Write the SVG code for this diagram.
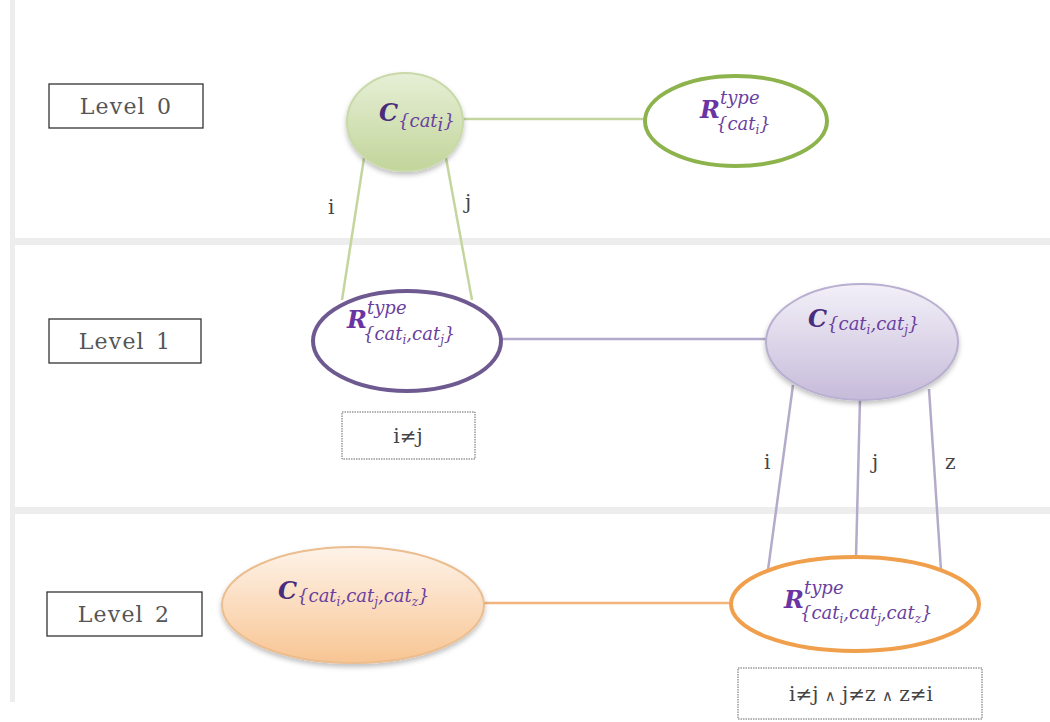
<svg xmlns="http://www.w3.org/2000/svg" width="1050" height="722" viewBox="0 0 1050 722">
<defs>
<linearGradient id="gGreen" x1="0" y1="0" x2="0" y2="1"><stop offset="0" stop-color="#e6efd6"/><stop offset="1" stop-color="#c2d59a"/></linearGradient>
<linearGradient id="gPurple" x1="0" y1="0" x2="0" y2="1"><stop offset="0" stop-color="#f3f0f8"/><stop offset="1" stop-color="#c6bbda"/></linearGradient>
<linearGradient id="gOrange" x1="0" y1="0" x2="0" y2="1"><stop offset="0" stop-color="#fef3e9"/><stop offset="1" stop-color="#f8c593"/></linearGradient>
<filter id="sh" x="-20%" y="-20%" width="140%" height="150%"><feDropShadow dx="0" dy="3" stdDeviation="2.5" flood-color="#000" flood-opacity="0.25"/></filter>
</defs>
<style>
.band{fill:#ededed}
.lvl{fill:#fff;stroke:#333;stroke-width:1.3}
.lvlt{font-family:"DejaVu Serif",serif;font-size:22px;fill:#555;letter-spacing:1.2px;word-spacing:3px}
.cond{fill:#fff;stroke:#666;stroke-width:1;stroke-dasharray:1.5 1}
.condt{font-family:"DejaVu Serif",serif;font-size:20px;fill:#444}
.and{font-size:15px}
.m{font-family:"DejaVu Serif",serif;font-style:italic}
.big{font-weight:bold;font-size:24px}
.cbig{fill:#4a2c7c}
.rbig{fill:#6a34a2}
.sub{font-size:18px;fill:#6a3fa0}
.tiny{font-size:12px}
.lab{font-family:"DejaVu Serif",serif;font-size:20px;fill:#444}
.eg{stroke:#c4d69e;stroke-width:2.5;fill:none}
.ep{stroke:#b4abca;stroke-width:2.5;fill:none}
.eo{stroke:#f3b47c;stroke-width:2.5;fill:none}
</style>
<rect x="0" y="0" width="1050" height="722" fill="#fff"/>
<rect class="band" x="10" y="0" width="5" height="702"/>
<rect class="band" x="14" y="238" width="1036" height="7"/>
<rect class="band" x="14" y="507" width="1036" height="7"/>

<g id="connectors">
<line class="eg" x1="462" y1="119" x2="645" y2="119"/>
<line class="eg" x1="364" y1="158" x2="342" y2="300"/>
<line class="eg" x1="446" y1="158" x2="472" y2="300"/>
<line class="ep" x1="502" y1="339" x2="767" y2="339"/>
<line class="ep" x1="793" y1="385" x2="768" y2="570"/>
<line class="ep" x1="860" y1="399" x2="856" y2="558"/>
<line class="ep" x1="929" y1="389" x2="941" y2="570"/>
<line class="eo" x1="484" y1="603" x2="729" y2="603"/>
</g>

<g id="edge-labels">
<text class="lab" x="328" y="214">i</text>
<text class="lab" x="465" y="209">j</text>
<text class="lab" x="764" y="469">i</text>
<text class="lab" x="872" y="469">j</text>
<text class="lab" x="945" y="469">z</text>
</g>

<g id="level0"><rect class="lvl" x="49" y="84" width="154" height="44"/><text class="lvlt" x="126" y="114" text-anchor="middle">Level 0</text></g>
<g id="level1"><rect class="lvl" x="49" y="319" width="152" height="44"/><text class="lvlt" x="125" y="349" text-anchor="middle">Level 1</text></g>
<g id="level2"><rect class="lvl" x="47" y="592" width="155" height="44"/><text class="lvlt" x="124" y="622" text-anchor="middle">Level 2</text></g>

<g id="C0">
<ellipse cx="405" cy="122" rx="58" ry="49" fill="url(#gGreen)" stroke="#c9d9a8" stroke-width="2" filter="url(#sh)"/>
<text class="m" x="379" y="121"><tspan class="big cbig">C</tspan><tspan class="sub" font-size="14" dy="6">{cat</tspan><tspan class="sub" font-size="10" dy="4">i</tspan><tspan class="sub" font-size="14" dy="-4">}</tspan></text>
</g>

<g id="R0">
<ellipse cx="736" cy="121" rx="91" ry="45" fill="#fff" stroke="#8db34c" stroke-width="4"/>
<text class="m" x="700" y="118"><tspan class="big rbig">R</tspan><tspan class="sub" dy="-14">type</tspan></text>
<text class="m sub" x="716" y="130">{cat<tspan class="tiny" dy="4">i</tspan><tspan dy="-4">}</tspan></text>
</g>

<g id="R1">
<ellipse cx="407" cy="341" rx="94" ry="50" fill="#fff" stroke="#6e5a90" stroke-width="4"/>
<text class="m" x="347" y="328"><tspan class="big rbig">R</tspan><tspan class="sub" dy="-14">type</tspan></text>
<text class="m sub" x="363" y="340">{cat<tspan class="tiny" dy="4">i</tspan><tspan dy="-4">,cat</tspan><tspan class="tiny" dy="4">j</tspan><tspan dy="-4">}</tspan></text>
</g>

<g id="C1">
<ellipse cx="862" cy="342" rx="96" ry="58" fill="url(#gPurple)" stroke="#b9afd0" stroke-width="2" filter="url(#sh)"/>
<text class="m" x="808" y="327"><tspan class="big cbig">C</tspan><tspan class="sub" dy="3">{cat</tspan><tspan class="tiny" fill="#6a3fa0" dy="4">i</tspan><tspan class="sub" dy="-4">,cat</tspan><tspan class="tiny" fill="#6a3fa0" dy="4">j</tspan><tspan class="sub" dy="-4">}</tspan></text>
</g>

<g id="cond1"><rect class="cond" x="342" y="412" width="133" height="47"/><text class="condt" x="408" y="443" text-anchor="middle">i≠j</text></g>

<g id="C2">
<ellipse cx="353" cy="605" rx="131" ry="58" fill="url(#gOrange)" stroke="#ebbd8f" stroke-width="2" filter="url(#sh)"/>
<text class="m" x="278" y="599"><tspan class="big cbig">C</tspan><tspan class="sub" dy="3">{cat</tspan><tspan class="tiny" fill="#6a3fa0" dy="4">i</tspan><tspan class="sub" dy="-4">,cat</tspan><tspan class="tiny" fill="#6a3fa0" dy="4">j</tspan><tspan class="sub" dy="-4">,cat</tspan><tspan class="tiny" fill="#6a3fa0" dy="4">z</tspan><tspan class="sub" dy="-4">}</tspan></text>
</g>

<g id="R2">
<ellipse cx="855" cy="604" rx="124" ry="47" fill="#fff" stroke="#f0a04c" stroke-width="4"/>
<text class="m" x="784" y="608"><tspan class="big rbig">R</tspan><tspan class="sub" dy="-14">type</tspan></text>
<text class="m sub" x="800" y="619">{cat<tspan class="tiny" dy="4">i</tspan><tspan dy="-4">,cat</tspan><tspan class="tiny" dy="4">j</tspan><tspan dy="-4">,cat</tspan><tspan class="tiny" dy="4">z</tspan><tspan dy="-4">}</tspan></text>
</g>

<g id="cond2"><rect class="cond" x="738" y="668" width="244" height="51"/><text class="condt" x="861" y="701" text-anchor="middle">i≠j <tspan class="and">∧</tspan> j≠z <tspan class="and">∧</tspan> z≠i</text></g>
</svg>
